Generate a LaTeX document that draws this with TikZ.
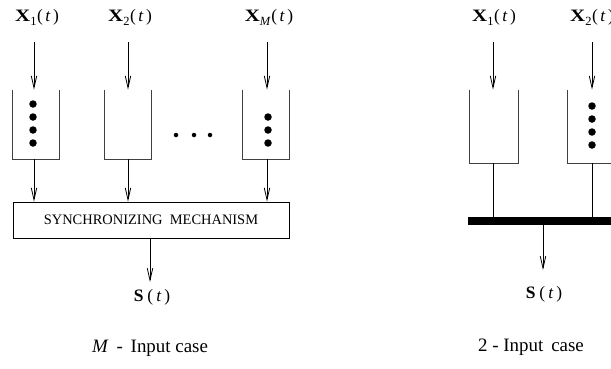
\documentclass[tikz,border=0pt]{standalone}
\usepackage{fontspec}
\setmainfont{Liberation Serif}
\usetikzlibrary{arrows.meta}

% input signal label: wide bold X, dropped index, spaced (t)
\newcommand{\sig}[1]{\scalebox{1.2}[1]{\textbf{X}}\raisebox{-4.5bp}{\fontsize{12.5}{12.5}\selectfont #1}\kern0.5bp(\kern2.5bp\textit{t}\kern2.5bp)}
\newcommand{\outsig}{\textbf{S}\kern4bp(\kern3bp\textit{t}\kern3bp)}

\begin{document}
\begin{tikzpicture}[x=1bp,y=-1bp,
  line width=0.8bp,
  arr/.style={-{Straight Barb[length=12bp,width=5.5bp,line width=0.8bp]}},
  lbl/.style={font=\fontsize{17.5}{17.5}\selectfont, inner sep=0pt, anchor=base},
  capt/.style={font=\fontsize{19}{20}\selectfont, inner sep=0pt, anchor=base},
  bucket/.style={minimum width=46bp, inner sep=0pt, draw=none},
  token/.style={circle, fill=black, inner sep=0pt, minimum size=7.5bp},
  gap/.style={circle, fill=black, inner sep=0pt, minimum size=4.5bp},
  sync/.style={draw, minimum width=276bp, minimum height=36bp, inner sep=0pt,
    font=\fontsize{14.5}{14.5}\selectfont},
  bar/.style={fill=black, draw=none, minimum height=8bp, inner sep=0pt}]

\useasboundingbox (0,0) rectangle (611,368);

% ---------------- M-input case ----------------
\node[lbl] (x1) at (37,21) {\sig{1}};
\node[lbl] (x2) at (130,21) {\sig{2}};
\node[lbl] (xm) at (269,21) {\sig{\textit{M}}};

\coordinate (i1) at (34,42);
\coordinate (i2) at (128,42);
\coordinate (im) at (267,42);

\node[bucket, minimum height=69bp] (b1) at (36,124.5) {};
\node[bucket, minimum height=69bp] (b2) at (128,124.5) {};
\node[bucket, minimum height=69bp] (bm) at (266,124.5) {};
\foreach \b in {b1,b2,bm}
  \draw[black!75] (\b.north west) |- (\b.south east) -- (\b.north east);

\foreach \y [count=\k] in {104,117,130,143}
  \node[token] (t1\k) at (33,\y) {};
\foreach \y [count=\k] in {117,130,143}
  \node[token] (tm\k) at (268,\y) {};

\foreach \x [count=\k] in {176,194,210}
  \node[gap] (el\k) at (\x,135) {};

\node[sync] (mech) at (151,220) {SYNCHRONIZING\ \ MECHANISM};

\foreach \c/\b in {i1/b1,i2/b2,im/bm}{
  \draw[arr] (\c) -- (\c |- \b.north);
  \draw[arr] (\c |- \b.south) -- (\c |- mech.north);
}

\coordinate (om) at (150,282);
\draw[arr] (om |- mech.south) -- (om);
\node[lbl] (sm) at (152,301) {\outsig};
\node[capt] (cm) at (150,352) {\textit{M}\ \,-\ \,Input case};

% ---------------- 2-input case ----------------
\node[lbl] (y1) at (494,21) {\sig{1}};
\node[lbl] (y2) at (592,21) {\sig{2}};

\coordinate (j1) at (493,42);
\coordinate (j2) at (592,42);

\node[bucket, minimum height=73bp, minimum width=48bp] (r1) at (494,126.5) {};
\node[bucket, minimum height=73bp, minimum width=48bp] (r2) at (592,126.5) {};
\foreach \b in {r1,r2}
  \draw[black!75] (\b.north west) |- (\b.south east) -- (\b.north east);

\foreach \y [count=\k] in {106,119,132,145}
  \node[token] (t2\k) at (592,\y) {};

\node[bar, minimum width=160bp, anchor=west] (join) at (468,221) {};

\foreach \c/\b in {j1/r1,j2/r2}{
  \draw[arr] (\c) -- (\c |- \b.north);
  \draw (\c |- \b.south) -- (\c |- join.north);
}

\coordinate (o2) at (543,270);
\draw[arr] (o2 |- join.south) -- (o2);
\node[lbl] (s2) at (544,298) {\outsig};
\node[capt] (c2) at (531,351) {2 - Input\, case};

\end{tikzpicture}
\end{document}
